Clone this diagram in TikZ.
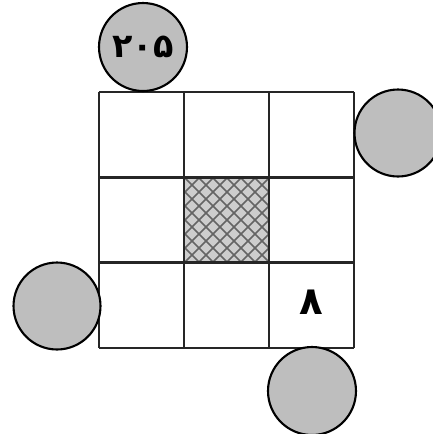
\documentclass[tikz,border=0pt]{standalone}
\usepackage{fontspec}
\newfontfamily\persianfont[Script=Arabic]{DejaVu Sans}
\usepackage{tikz}
\definecolor{ballgray}{RGB}{190,190,190}
\definecolor{hatchbg}{RGB}{205,205,205}
\definecolor{hatchline}{RGB}{100,100,100}

\begin{document}
\begin{tikzpicture}[x=0.02cm, y=-0.02cm,
    ball/.style={circle, draw=black, line width=1.2pt, fill=ballgray, inner sep=0pt},
    gridline/.style={line width=1.5pt, black!85},
    digit/.style={font=\persianfont\bfseries\fontsize{22}{24}\selectfont}]
    \useasboundingbox (0,0) rectangle (433,434);

    % خانه‌ی وسط (هاشور)
    \fill[hatchbg] (184,177) rectangle (269,263);
    \begin{scope}
        \clip (184,177) rectangle (269,263);
        \foreach \s in {-98,-84,...,98} {
            \draw[hatchline, line width=0.9pt] (184+\s,177) -- ++(86,86);
            \draw[hatchline, line width=0.9pt] (184+\s,263) -- ++(86,-86);
        }
    \end{scope}

    % جدول ۳ در ۳
    \foreach \i in {0,1,2,3} {
        \draw[gridline] (99+85*\i,92) -- (99+85*\i,348);
        \draw[gridline] (99,92+85.33*\i) -- (354,92+85.33*\i);
    }
    \node[digit] (eight) at (311,302) {۸};

    % دایره‌ها
    \node[ball, minimum size=1.76cm, digit, font=\persianfont\bfseries\fontsize{19}{21}\selectfont] (topball) at (143,47) {۲۰۵};
    \node[ball, minimum size=1.74cm] (rightball) at (398,133) {};
    \node[ball, minimum size=1.74cm] (leftball) at (57,306) {};
    \node[ball, minimum size=1.76cm] (bottomball) at (312,391) {};
\end{tikzpicture}
\end{document}
